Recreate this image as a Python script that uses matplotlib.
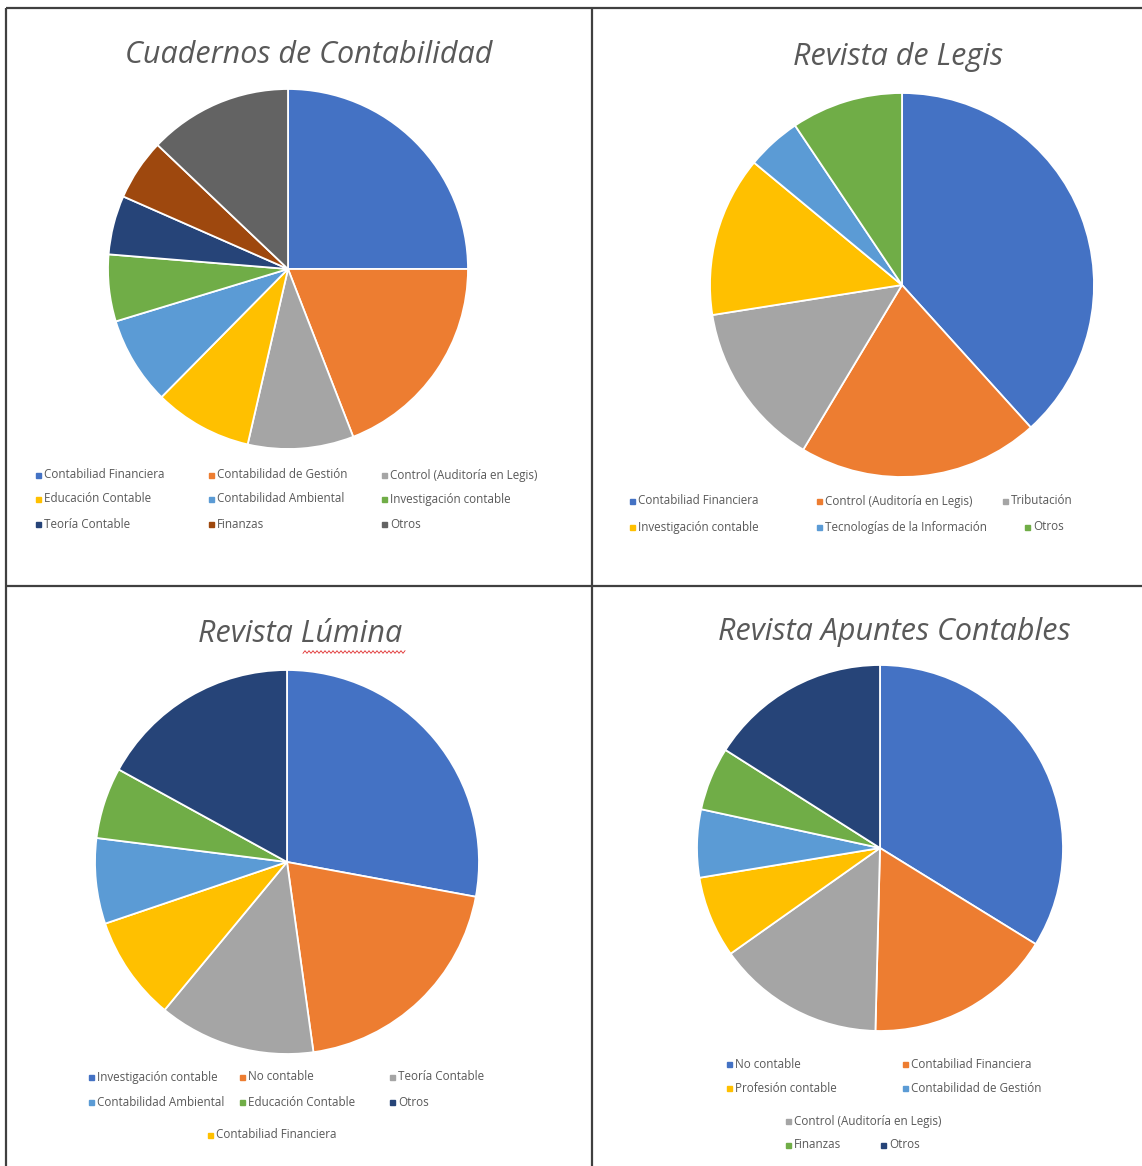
import numpy as np
import matplotlib.pyplot as plt

W, H = 1142, 1166

# --- data (percent shares, read clockwise from 12 o'clock) ---
cuad_labels = ["Contabiliad Financiera", "Contabilidad de Gestión", "Control (Auditoría en Legis)",
               "Educación Contable", "Contabilidad Ambiental", "Investigación contable",
               "Teoría Contable", "Finanzas", "Otros"]
cuad_values = [25.0, 19.1, 9.5, 8.8, 7.9, 6.0, 5.3, 5.5, 12.9]

legis_labels = ["Contabiliad Financiera", "Control (Auditoría en Legis)", "Tributación",
                "Investigación contable", "Tecnologías de la Información", "Otros"]
legis_values = [38.3, 20.3, 13.9, 13.5, 4.6, 9.4]

lumina_labels = ["Investigación contable", "No contable", "Teoría Contable",
                 "Contabiliad Financiera", "Contabilidad Ambiental", "Educación Contable", "Otros"]
lumina_values = [27.9, 19.9, 13.2, 8.8, 7.2, 6.0, 17.0]

apuntes_labels = ["No contable", "Contabiliad Financiera", "Control (Auditoría en Legis)",
                  "Profesión contable", "Contabilidad de Gestión", "Finanzas", "Otros"]
apuntes_values = [33.8, 16.6, 14.8, 7.2, 6.0, 5.6, 16.0]

# Excel palette
BLUE, ORANGE, GRAY, YELLOW = "#4472C4", "#ED7D31", "#A5A5A5", "#FFC000"
LBLUE, GREEN, NAVY, BROWN, DGRAY = "#5B9BD5", "#70AD47", "#264478", "#9E480E", "#636363"

cuad_colors = [BLUE, ORANGE, GRAY, YELLOW, LBLUE, GREEN, NAVY, BROWN, DGRAY]
legis_colors = [BLUE, ORANGE, GRAY, YELLOW, LBLUE, GREEN]
lumina_colors = [BLUE, ORANGE, GRAY, YELLOW, LBLUE, GREEN, NAVY]
apuntes_colors = [BLUE, ORANGE, GRAY, YELLOW, LBLUE, GREEN, NAVY]

TXT = "#595959"


def Y(y):
    return H - y


fig = plt.figure(figsize=(W / 100, H / 100), dpi=100)
ax = fig.add_axes([0, 0, 1, 1])


def draw_panel(values, colors, labels, center, radius, title, title_pos, legend_pos, legend_order):
    ax.pie(values, colors=colors, startangle=90, counterclock=False,
           center=(center[0], Y(center[1])), radius=radius,
           wedgeprops=dict(edgecolor="white", linewidth=1.3))
    ax.text(title_pos[0], Y(title_pos[1]), title, ha="center", va="center",
            fontsize=22, style="italic", color=TXT, family="Open Sans")
    # legend entries placed like the Excel layout
    for idx, (mx, my) in zip(legend_order, legend_pos):
        ax.plot([mx], [Y(my)], marker="s", markersize=3.6, color=colors[idx],
                linestyle="none")
        ax.text(mx + 6, Y(my), labels[idx], ha="left", va="center",
                fontsize=8.4, color=TXT, family="Open Sans")


draw_panel(cuad_values, cuad_colors, cuad_labels, (288, 269), 180,
           "Cuadernos de Contabilidad", (309, 55),
           [(38, 475), (211, 475), (384, 475),
            (38, 499), (211, 499), (384, 499),
            (38, 524), (211, 524), (384, 524)],
           [0, 1, 2, 3, 4, 5, 6, 7, 8])

draw_panel(legis_values, legis_colors, legis_labels, (902, 285), 192,
           "Revista de Legis", (898, 57),
           [(632, 501), (819, 501), (1005, 501),
            (632, 527), (819, 527), (1027, 527)],
           [0, 1, 2, 3, 4, 5])

draw_panel(lumina_values, lumina_colors, lumina_labels, (287, 862), 192,
           "Revista Lúmina", (300, 634),
           [(91, 1077), (242, 1077), (392, 1077),
            (91, 1102), (242, 1102), (392, 1102),
            (210, 1135)],
           [0, 1, 2, 4, 5, 6, 3])

draw_panel(apuntes_values, apuntes_colors, apuntes_labels, (880, 848), 183,
           "Revista Apuntes Contables", (894, 632),
           [(729, 1064), (905, 1064),
            (729, 1088), (905, 1088),
            (788, 1121),
            (788, 1145), (883, 1145)],
           [0, 1, 3, 4, 2, 5, 6])

# spell-check squiggle under "Lúmina"
sx = np.linspace(303, 405, 52)
sy = 652 + 1.3 * np.where(np.arange(52) % 2 == 0, 1, -1)
ax.plot(sx, [Y(v) for v in sy], color="#E03030", linewidth=0.6)

# grid frame lines
line_kw = dict(color="#404040", linewidth=1.6, solid_capstyle="butt")
ax.plot([6, W], [Y(8), Y(8)], **line_kw)
ax.plot([6, 6], [Y(8), 0], **line_kw)
ax.plot([592, 592], [Y(8), 0], **line_kw)
ax.plot([6, W], [Y(586), Y(586)], **line_kw)

ax.set_xlim(0, W)
ax.set_ylim(0, H)
ax.set_aspect("equal")
ax.axis("off")

fig.savefig("out.png", dpi=100, facecolor="white")
